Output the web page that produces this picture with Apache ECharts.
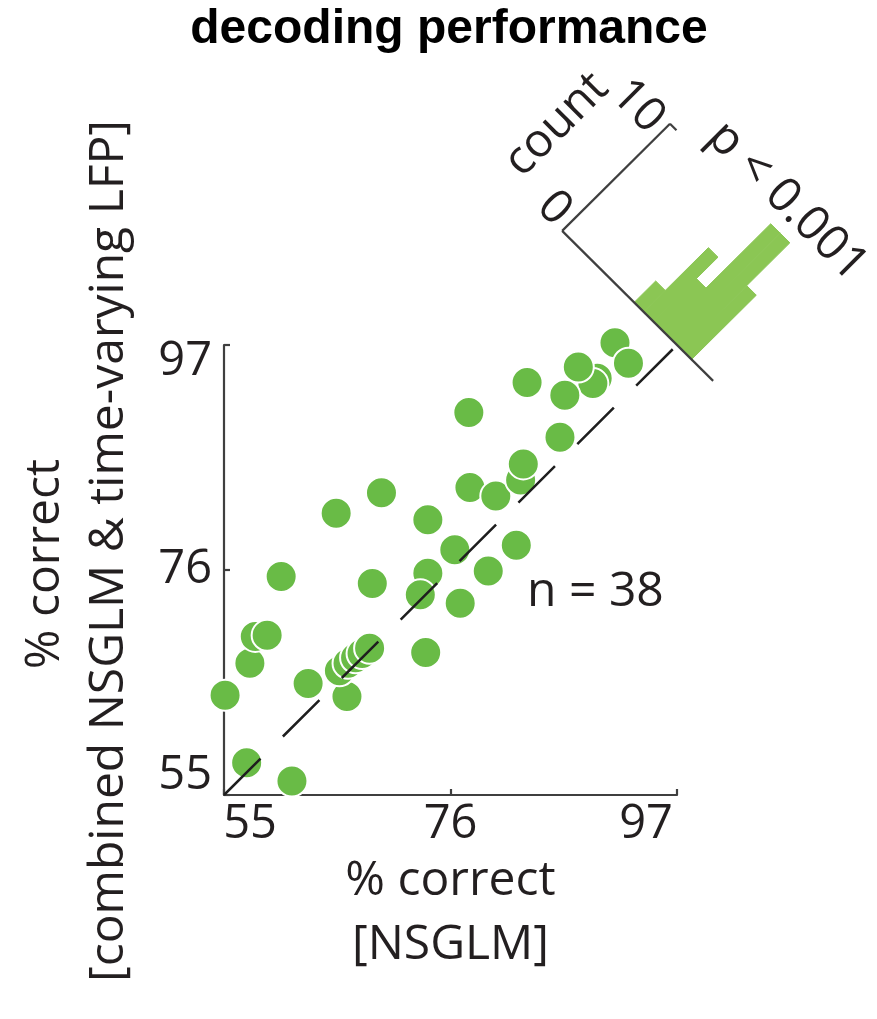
<!DOCTYPE html>
<html>
<head>
<meta charset="utf-8">
<script src="https://cdn.jsdelivr.net/npm/echarts@6/dist/echarts.min.js"></script>
<style>
  html, body { margin: 0; padding: 0; background: #ffffff; }
  #chart { width: 877px; height: 1019px; }
</style>
</head>
<body>
<div id="chart"></div>
<script>
// Decoding accuracy per session (% correct), NSGLM alone
const nsglm = [
  55.1, 57.1, 61.3, 57.4, 57.9, 59.0, 60.3, 62.8, 66.4, 65.4,
  69.6, 65.7, 66.5, 67.2, 67.8, 68.5, 68.75, 73.9, 73.2, 73.9,
  73.7, 76.4, 76.9, 77.7, 77.8, 79.5, 80.2, 82.1, 82.5, 82.75,
  83.1, 86.15, 89.6, 89.2, 87.85, 86.6, 91.25, 92.5
];
// Same sessions, combined NSGLM & time-varying LFP decoder
const combined = [
  64.3, 58.0, 56.3, 67.3, 69.8, 69.9, 75.4, 65.4, 64.2, 81.3,
  83.2, 66.6, 67.3, 67.8, 68.2, 68.7, 74.75, 75.7, 73.7, 80.7,
  68.3, 77.9, 72.9, 90.7, 83.7, 75.9, 82.9, 78.3, 84.4, 85.9,
  93.5, 88.4, 93.9, 93.4, 94.95, 92.3, 97.2, 95.3
];
const axisTicks = [55, 76, 97];

// Histogram of the paired difference (combined - NSGLM)
const diffEdges = [-5.4, -1.85, 1.7, 5.25, 8.8, 12.35, 15.9];
const diffCounts = [6, 10, 10, 4, 6, 2];
const countTicks = [0, 10];
const pLabel = 'p < 0.001';

const FONT = '"Open Sans", "Noto Sans", sans-serif';
const TXT = '#231f20';
const AXIS = '#3f3f3f';
const DOT = '#69bb46';
const BAR = '#8bc654';

// The histogram sits on the identity line's upper end, rotated 45 degrees:
// difference runs along the anti-diagonal, counts along the diagonal.
const histAnchor = axisTicks[axisTicks.length - 1];
const diffScale = 0.25;
const histBase = [-13.4, 42.6];          // extent of the difference axis
function histPoint(d, c) {
  return [histAnchor - diffScale * d + c, histAnchor + diffScale * d + c];
}

const points = nsglm.map((x, i) => [x, combined[i]]);
const bins = diffCounts.map((c, i) => [diffEdges[i], diffEdges[i + 1], c]);
const lo = axisTicks[0], hi = axisTicks[axisTicks.length - 1];

const chart = echarts.init(document.getElementById('chart'), null, { renderer: 'canvas' });

function tickLabelsX(v) {
  if (v === lo) return '{l|' + v + '}';
  if (v === hi) return '{r|' + v + '}';
  return '{m|' + v + '}';
}
function tickLabelsY(v) {
  if (v === lo) return '{b|' + v + '}';
  if (v === hi) return '{t|' + v + '}';
  return '{m|' + v + '}';
}
const lbl = { fontSize: 47, fontFamily: FONT, color: TXT };

chart.setOption({
  animation: false,
  backgroundColor: '#ffffff',
  graphic: [{
    type: 'text',
    x: 449, y: 30,
    style: {
      text: 'decoding performance',
      font: 'bold 48px "Liberation Sans", Arial, sans-serif',
      fill: '#000000', align: 'center', verticalAlign: 'middle'
    }
  }],
  grid: { left: 224, top: 345, width: 453, height: 450, outerBoundsMode: 'none' },
  xAxis: {
    type: 'value', min: lo, max: hi, interval: axisTicks[1] - axisTicks[0],
    axisLine: { show: true, onZero: false, lineStyle: { color: AXIS, width: 2.2 } },
    axisTick: { show: true, inside: true, length: 6, lineStyle: { color: AXIS, width: 2.2 } },
    splitLine: { show: false },
    axisLabel: {
      margin: 6, formatter: tickLabelsX,
      rich: {
        l: Object.assign({ padding: [0, 0, 0, 52] }, lbl),
        r: Object.assign({ padding: [0, 62, 0, 0] }, lbl),
        m: Object.assign({}, lbl)
      }
    },
    name: '% correct\n[NSGLM]', nameLocation: 'middle', nameGap: 54,
    nameTextStyle: { fontSize: 48, fontFamily: FONT, color: TXT, lineHeight: 64 }
  },
  yAxis: {
    type: 'value', min: lo, max: hi, interval: axisTicks[1] - axisTicks[0],
    axisLine: { show: true, onZero: false, lineStyle: { color: AXIS, width: 2.2 } },
    axisTick: { show: true, inside: true, length: 6, lineStyle: { color: AXIS, width: 2.2 } },
    splitLine: { show: false },
    axisLabel: {
      margin: 12, formatter: tickLabelsY,
      rich: {
        t: Object.assign({ padding: [33, 0, 0, 0] }, lbl),
        b: Object.assign({ padding: [0, 0, 39, 0] }, lbl),
        m: Object.assign({}, lbl)
      }
    },
    name: '{a|% correct}\n{b|[combined NSGLM & time-varying LFP]}',
    nameLocation: 'middle', nameGap: 83,
    nameTextStyle: {
      fontSize: 48, fontFamily: FONT, color: TXT, lineHeight: 64,
      rich: {
        a: { fontSize: 48, fontFamily: FONT, color: TXT, lineHeight: 64, padding: [0, 0, 0, 12] },
        b: { fontSize: 48, fontFamily: FONT, color: TXT, lineHeight: 64, padding: [0, 0, 0, 38] }
      }
    }
  },
  series: [
    {
      // rotated histogram bars
      type: 'custom', name: 'difference histogram', clip: false, silent: true, z: 2,
      data: bins,
      renderItem: function (params, api) {
        const d0 = api.value(0), d1 = api.value(1), c = api.value(2);
        const pts = [histPoint(d0, 0), histPoint(d1, 0), histPoint(d1, c), histPoint(d0, c)]
          .map(p => api.coord(p));
        return {
          type: 'polygon', shape: { points: pts },
          style: { fill: BAR, stroke: BAR, lineWidth: 1 }
        };
      }
    },
    {
      // histogram frame: difference baseline, count axis, labels
      type: 'custom', name: 'histogram axes', clip: false, silent: true, z: 3,
      data: [[0]],
      renderItem: function (params, api) {
        const corner = histBase[1];
        const line = (a, b) => ({
          type: 'line',
          shape: { x1: a[0], y1: a[1], x2: b[0], y2: b[1] },
          style: { stroke: AXIS, lineWidth: 2.2 }
        });
        const cTop = countTicks[countTicks.length - 1];
        const children = [
          line(api.coord(histPoint(histBase[1], 0)), api.coord(histPoint(histBase[0], 0))),
          line(api.coord(histPoint(corner, 0)), api.coord(histPoint(corner, cTop))),
          line(api.coord(histPoint(corner, cTop)), api.coord(histPoint(corner - 2.4, cTop)))
        ];
        const labelD = corner + 2.1;
        countTicks.forEach((t, i) => {
          const inset = i === 0 ? 0.68 : -0.68;
          const p = api.coord(histPoint(labelD, t + inset));
          children.push({
            type: 'text', x: p[0], y: p[1], rotation: -Math.PI / 4,
            style: { text: String(t), font: '47px ' + FONT, fill: TXT, align: 'right', verticalAlign: 'middle' }
          });
        });
        const pc = api.coord(histPoint(63.4, cTop / 2 - 0.3));
        children.push({
          type: 'text', x: pc[0], y: pc[1], rotation: Math.PI / 4,
          style: { text: 'count', font: '47px ' + FONT, fill: TXT, align: 'center', verticalAlign: 'middle' }
        });
        const pp = api.coord(histPoint(6.4, 11.8));
        children.push({
          type: 'text', x: pp[0], y: pp[1], rotation: -Math.PI / 4,
          style: { text: pLabel, font: '48px ' + FONT, fill: TXT, align: 'center', verticalAlign: 'middle' }
        });
        return { type: 'group', children: children };
      }
    },
    {
      type: 'scatter', name: 'sessions', data: points, clip: false,
      symbol: 'circle', symbolSize: 31, z: 4,
      itemStyle: { color: DOT, borderColor: '#ffffff', borderWidth: 2, opacity: 1 },
      emphasis: { disabled: true }
    },
    {
      // identity line
      type: 'line', name: 'identity', data: [[lo, lo], [hi, hi]],
      showSymbol: false, symbol: 'none', clip: false, z: 5, silent: true,
      lineStyle: { color: '#1e1e1e', width: 2.5, type: [51.5, 31.5] }
    },
    {
      type: 'custom', name: 'n label', clip: false, silent: true, z: 6,
      data: [[83.1, 73.9]],
      renderItem: function (params, api) {
        const p = api.coord([api.value(0), api.value(1)]);
        return {
          type: 'text', x: p[0], y: p[1],
          style: { text: 'n = ' + points.length, font: '48px ' + FONT, fill: TXT, align: 'left', verticalAlign: 'middle' }
        };
      }
    }
  ]
});
</script>
</body>
</html>
